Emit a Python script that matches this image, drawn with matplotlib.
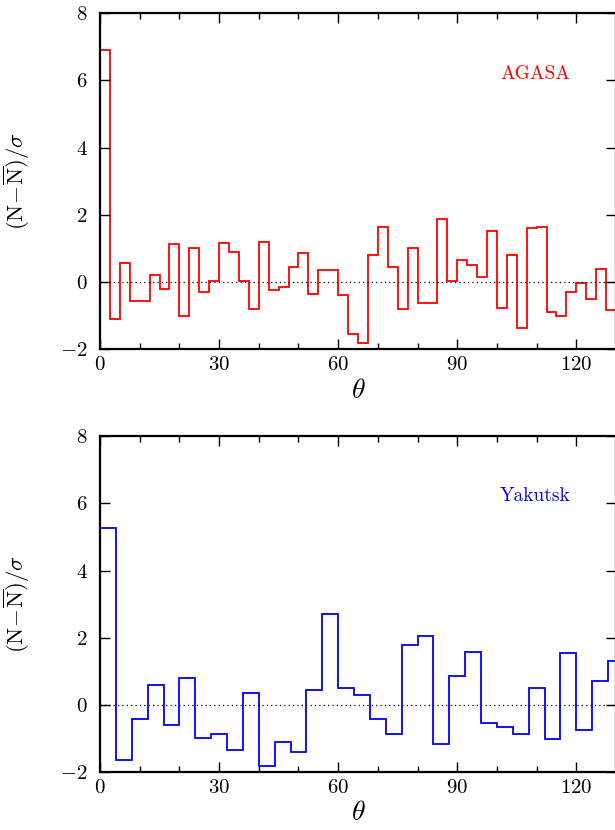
import numpy as np
import matplotlib
matplotlib.use("Agg")
import matplotlib.pyplot as plt
from matplotlib.ticker import MultipleLocator

plt.rcParams["font.family"] = "cmr10"
plt.rcParams["mathtext.fontset"] = "cm"
plt.rcParams["axes.formatter.use_mathtext"] = True

# AGASA: 2.5 degree bins from 0 to 130
agasa_bin = 2.5
agasa_vals = [6.90, -1.10, 0.56, -0.57, -0.57, 0.20, -0.20, 1.14, -0.99, 1.02,
              -0.29, 0.04, 1.17, 0.91, 0.05, -0.79, 1.18, -0.24, -0.14, 0.45,
              0.88, -0.34, 0.37, 0.35, -0.38, -1.55, -1.81, 0.81, 1.64, 0.45,
              -0.80, 1.03, -0.63, -0.63, 1.88, 0.04, 0.67, 0.50, 0.15, 1.52,
              -0.77, 0.80, -1.36, 1.60, 1.65, -0.89, -1.01, -0.28, -0.01, -0.50,
              0.38, -0.83]

# Yakutsk: 4 degree bins from 0 to 132
yak_bin = 4.0
yak_vals = [5.26, -1.64, -0.42, 0.60, -0.58, 0.80, -0.97, -0.85, -1.34, 0.36,
            -1.81, -1.09, -1.40, 0.44, 2.71, 0.52, 0.31, -0.41, -0.86, 1.79,
            2.04, -1.16, 0.87, 1.57, -0.53, -0.66, -0.87, 0.52, -1.01, 1.56,
            -0.73, 0.72, 1.31]

panels = [
    ("AGASA", agasa_vals, agasa_bin, "#ff0000"),
    ("Yakutsk", yak_vals, yak_bin, "#0000ff"),
]

fig = plt.figure(figsize=(6.15, 8.3), dpi=100)
W, H = 615.0, 830.0
# axes boxes in pixels: left, top, right, bottom
boxes = [(100, 13, 616, 349.5), (100, 436, 616, 772.3)]

for (name, vals, width, color), (l, t, r, b) in zip(panels, boxes):
    ax = fig.add_axes([l / W, 1 - b / H, (r - l) / W, (b - t) / H])
    edges = np.arange(len(vals) + 1) * width
    ax.stairs(vals, edges, color=color, lw=1.3, baseline=None)
    ax.axhline(0, color="black", lw=0.9, ls=(0, (1, 2.5)))
    ax.set_xlim(0, 130)
    ax.set_ylim(-2, 8)
    ax.xaxis.set_major_locator(MultipleLocator(30))
    ax.xaxis.set_minor_locator(MultipleLocator(10))
    ax.yaxis.set_major_locator(MultipleLocator(2))
    ax.tick_params(which="both", direction="in", top=True, right=True,
                   labelsize=15, width=1.0)
    ax.tick_params(axis="y", pad=9)
    ax.tick_params(axis="x", pad=5)
    ax.tick_params(which="major", length=7)
    ax.tick_params(which="minor", length=4)
    for s in ax.spines.values():
        s.set_linewidth(1.6)
    ax.set_xlabel(r"$\theta$", fontsize=20, labelpad=2)
    ax.set_ylabel(r"$(\mathrm{N}\!-\!\overline{\mathrm{N}})/\sigma$", fontsize=16.5, labelpad=20)
    ax.text(100.8, 6.2, name, color=color, fontsize=14, va="center", ha="left")

fig.savefig("out.png", dpi=100)
